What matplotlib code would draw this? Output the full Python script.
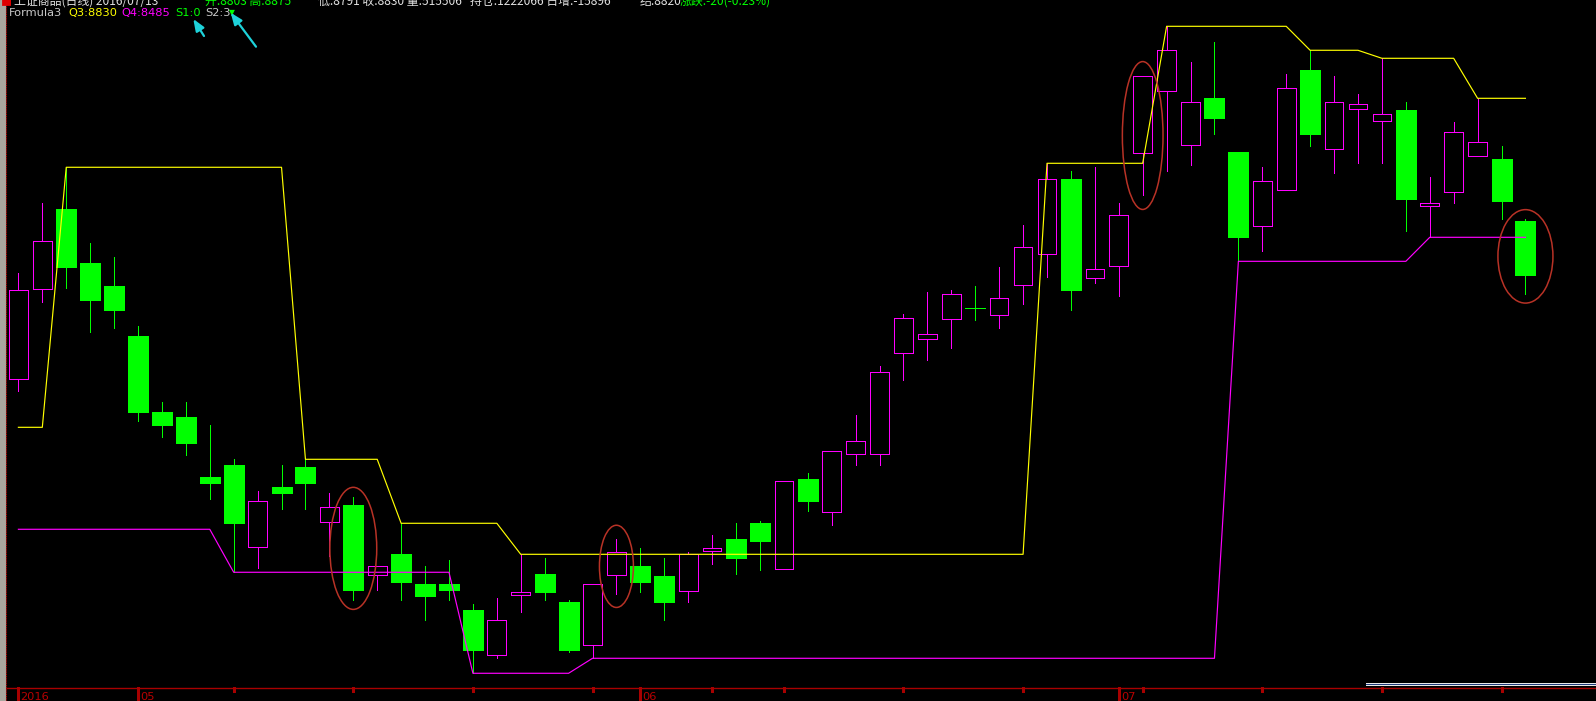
import matplotlib
matplotlib.use("Agg")
import matplotlib.pyplot as plt
from matplotlib.patches import Rectangle, Ellipse
from matplotlib import transforms

# ---- daily bars, 2016-04 .. 2016-07 -------------------------------------
opens = [8132.6, 8356.0, 8555.3, 8420.5, 8364.2, 8240.0, 8051.4, 8039.0,
         7890.1, 7919.9, 7715.6, 7865.3, 7914.9, 7777.7, 7820.6, 7646.1,
         7699.0, 7624.5, 7624.5, 7560.0, 7447.1, 7598.0, 7649.3, 7579.8,
         7472.4, 7646.1, 7669.2, 7644.4, 7606.4, 7705.7, 7736.2, 7775.9,
         7661.0, 7885.1, 7802.5, 7946.4, 7946.4, 8197.1, 8231.9, 8281.5,
         8308.8, 8291.4, 8365.9, 8442.8, 8629.7, 8383.3, 8413.0, 8693.5,
         8847.4, 8713.4, 8830.8, 8696.7, 8512.3, 8601.7, 8900.3, 8703.4,
         8802.7, 8772.9, 8801.0, 8562.0, 8596.7, 8686.1, 8679.4, 8525.5]
highs = [8395.7, 8569.4, 8658.8, 8470.1, 8435.4, 8264.9, 8076.2, 8076.2,
         8019.2, 7934.8, 7855.3, 7919.9, 7934.0, 7849.6, 7840.4, 7668.4,
         7775.2, 7669.2, 7684.1, 7574.9, 7589.8, 7698.2, 7688.3, 7584.8,
         7623.8, 7736.2, 7713.9, 7689.0, 7703.2, 7746.1, 7775.9, 7780.9,
         7879.4, 7900.0, 7953.9, 8044.0, 8165.6, 8294.6, 8348.5, 8354.2,
         8364.2, 8411.3, 8515.5, 8668.7, 8649.6, 8659.5, 8570.2, 8884.6,
         9008.7, 8920.1, 8969.8, 8696.7, 8659.5, 8890.3, 8949.2, 8885.4,
         8840.7, 8929.3, 8820.8, 8634.7, 8771.2, 8830.0, 8711.6, 8530.4]
lows = [8102.8, 8325.2, 8359.9, 8250.7, 8260.7, 8029.8, 7990.1, 7945.4,
        7836.2, 7653.6, 7665.0, 7811.4, 7811.4, 7694.8, 7585.5, 7610.4,
        7585.5, 7535.9, 7585.5, 7402.9, 7441.6, 7555.8, 7585.5, 7456.5,
        7440.1, 7600.4, 7605.4, 7535.9, 7580.6, 7674.9, 7650.1, 7660.0,
        7661.0, 7806.4, 7771.7, 7920.6, 7920.6, 8131.6, 8181.2, 8211.0,
        8279.8, 8260.7, 8320.2, 8387.2, 8304.6, 8372.3, 8340.1, 8590.7,
        8650.3, 8665.2, 8742.2, 8425.4, 8451.8, 8601.7, 8712.4, 8645.4,
        8670.2, 8670.2, 8501.4, 8485.0, 8570.9, 8686.1, 8531.2, 8345.0]
closes = [8353.5, 8475.1, 8412.1, 8330.1, 8305.3, 8052.2, 8019.2, 7975.2,
          7875.9, 7776.7, 7829.8, 7851.1, 7875.9, 7814.9, 7610.4, 7668.4,
          7630.2, 7595.5, 7610.4, 7461.4, 7535.2, 7604.7, 7605.4, 7461.4,
          7623.8, 7703.2, 7630.2, 7580.6, 7698.2, 7713.1, 7689.8, 7732.0,
          7879.4, 7831.3, 7953.9, 7978.7, 8149.9, 8284.0, 8244.3, 8343.5,
          8308.8, 8333.6, 8460.2, 8629.0, 8355.0, 8405.6, 8539.6, 8884.6,
          8949.2, 8820.1, 8781.9, 8486.5, 8624.0, 8854.8, 8742.2, 8820.1,
          8815.1, 8790.3, 8580.8, 8569.4, 8745.6, 8720.8, 8575.9, 8392.2]

# Formula3 outputs: Q3 upper channel (yellow), Q4 lower channel (magenta)
q3 = [8013.4, 8013.4, 8658.8, 8658.8, 8658.8, 8658.8, 8658.8, 8658.8,
      8658.8, 8658.8, 8658.8, 8658.8, 7934.0, 7934.0, 7934.0, 7934.0,
      7775.2, 7775.2, 7775.2, 7775.2, 7775.2, 7698.2, 7698.2, 7698.2,
      7698.2, 7698.2, 7698.2, 7698.2, 7698.2, 7698.2, 7698.2, 7698.2,
      7698.2, 7698.2, 7698.2, 7698.2, 7698.2, 7698.2, 7698.2, 7698.2,
      7698.2, 7698.2, 7698.2, 8668.7, 8668.7, 8668.7, 8668.7, 8668.7,
      9008.7, 9008.7, 9008.7, 9008.7, 9008.7, 9008.7, 8949.2, 8949.2,
      8949.2, 8929.3, 8929.3, 8929.3, 8929.3, 8830.0, 8830.0, 8830.0]
q4 = [7760.3, 7760.3, 7760.3, 7760.3, 7760.3, 7760.3, 7760.3, 7760.3,
      7760.3, 7653.6, 7653.6, 7653.6, 7653.6, 7653.6, 7653.6, 7653.6,
      7653.6, 7653.6, 7653.6, 7402.9, 7402.9, 7402.9, 7402.9, 7402.9,
      7440.1, 7440.1, 7440.1, 7440.1, 7440.1, 7440.1, 7440.1, 7440.1,
      7440.1, 7440.1, 7440.1, 7440.1, 7440.1, 7440.1, 7440.1, 7440.1,
      7440.1, 7440.1, 7440.1, 7440.1, 7440.1, 7440.1, 7440.1, 7440.1,
      7440.1, 7440.1, 7440.1, 8425.4, 8425.4, 8425.4, 8425.4, 8425.4,
      8425.4, 8425.4, 8425.4, 8485.0, 8485.0, 8485.0, 8485.0, 8485.0]
s1_value = 0
s2_value = 3

# date axis: week ticks and month starts (bar indices)
tick_bars = [0, 5, 9, 14, 19, 24, 26, 29, 32, 37, 42, 46, 47, 52, 57, 62]
month_bars = [0, 5, 26, 46]
month_labels = ["2016", "05", "06", "07"]

# bars circled as signals
marked_bars = [14, 25, 47, 63]

# ---- styling --------------------------------------------------------------
UP = "#FF00FF"
DOWN = "#00FF00"
YEL = "#FFFF00"
RING = "#B83226"
AXIS_RED = "#A80000"
CYAN = "#1ED2DA"
GREY = "#C8C8C8"
ring_w = [1.96, 1.42, 1.70, 2.30]     # ellipse widths in bars
ring_h = [303, 204, 367, 232]         # ellipse heights in price units
PX = 0.72                             # one device pixel in points

W, H = 1596, 701
fig = plt.figure(figsize=(W / 100, H / 100), dpi=100, facecolor="black")

ax = fig.add_axes([0, 0, 1, 1])
ax.set_facecolor("black")
ax.set_xlim(-0.769, 65.95)
ax.set_ylim(7334.1, 9074.0)
ax.axis("off")

body_up = 0.78
body_dn = 0.836
for i, (o, h, l, c) in enumerate(zip(opens, highs, lows, closes)):
    if c > o:
        ax.vlines(i, c, h, color=UP, lw=PX, antialiased=False, zorder=2)
        ax.vlines(i, l, o, color=UP, lw=PX, antialiased=False, zorder=2)
        ax.add_patch(Rectangle((i - body_up / 2, o), body_up, c - o, fill=False,
                               ec=UP, lw=PX, antialiased=False, snap=True,
                               zorder=3))
    else:
        ax.vlines(i, l, h, color=DOWN, lw=PX, antialiased=False, zorder=2)
        ax.add_patch(Rectangle((i - body_dn / 2, c), body_dn, o - c, fc=DOWN,
                               ec=DOWN, lw=PX, antialiased=False, snap=True,
                               zorder=3))

xs = list(range(len(closes)))
ax.plot(xs, q3, color=YEL, lw=0.85, zorder=4)
ax.plot(xs, q4, color=UP, lw=0.85, zorder=4)

for b, w, hgt in zip(marked_bars, ring_w, ring_h):
    cy = (highs[b] + lows[b]) / 2
    ax.add_patch(Ellipse((b, cy), w, hgt, fill=False, ec=RING, lw=1.1, zorder=5))

# ---- overlay in pixel units for frame, header and date axis -------------
ov = fig.add_axes([0, 0, 1, 1], facecolor="none")
ov.set_xlim(0, W)
ov.set_ylim(H, 0)
ov.axis("off")

# left frame strip
ov.add_patch(Rectangle((0, 0), 4.5, H, color="#A9A79E", zorder=1))
ov.vlines(6, 0, H, color="#C00000", lw=0.8, linestyles=(0, (1, 1)))

# date axis
axis_y = 687.7
ov.hlines(axis_y, 6, W, color=AXIS_RED, lw=1.0)
trans = transforms.blended_transform_factory(ax.transData, ov.transData)
for b in tick_bars:
    bottom = H if b in month_bars else axis_y + 3
    ov.plot([b, b], [axis_y, bottom], color=AXIS_RED, lw=0.9, transform=trans,
            antialiased=False)
lab_trans = transforms.offset_copy(trans, fig=fig, x=2, y=0, units="dots")
for b, lab in zip(month_bars, month_labels):
    ov.text(b, 692.3, lab, color="#B80000", fontsize=8.2, va="top", ha="left",
            transform=lab_trans)

# status strip at lower right
ov.add_patch(Rectangle((1366, 682.5), W - 1366, 1.2, color="#E8E8E8", lw=0))
ov.add_patch(Rectangle((1366, 683.7), W - 1366, 1.6, color="#1E3A78", lw=0))
ov.add_patch(Rectangle((1366, 685.3), W - 1366, 1.0, color="#E8E8E8", lw=0))

# clipped title line at the very top
cjk = ["Noto Sans CJK SC", "DejaVu Sans"]
ov.text(1, 4.8, "■", color="#E00000", fontsize=8, va="baseline", family=cjk)
top_parts = [
    (14, "上证商品(日线) 2016/07/13", "#E0E0E0"),
    (205, "开:8803 高:8875", "#00FF00"),
    (318, "低:8791 收:8830 量:515506", "#E0E0E0"),
    (470, "持仓:1222066 日增:-15896", "#E0E0E0"),
    (640, "结:8820", "#E0E0E0"),
    (680, "涨跌:-20(-0.23%)", "#00FF00"),
]
for x0, s, col in top_parts:
    ov.text(x0, 4.8, s, color=col, fontsize=8.6, va="baseline", family=cjk)

# indicator header
hy = 15.6
ov.text(9.3, hy, "Formula3", color=GREY, fontsize=8.2, va="baseline")
ov.text(68.3, hy, f"Q3:{q3[-1]:.0f}", color=YEL, fontsize=8.2, va="baseline")
ov.text(121.7, hy, f"Q4:{q4[-1]:.0f}", color=UP, fontsize=8.2, va="baseline")
ov.text(175.7, hy, f"S1:{s1_value}", color=DOWN, fontsize=8.2, va="baseline")
ov.text(205.7, hy, f"S2:{s2_value}", color=GREY, fontsize=8.2, va="baseline")
ov.text(228.5, hy - 1, "▼", color=DOWN, fontsize=5.5, va="baseline")

# pointers to the signal counters
for tip, tail in [((193.3, 19.0), (204.0, 36.0)), ((230.7, 12.7), (256.0, 46.7))]:
    ov.annotate("", xy=tip, xytext=tail,
                arrowprops=dict(arrowstyle="-|>,head_length=0.7,head_width=0.28",
                                color=CYAN, lw=1.6, shrinkA=0, shrinkB=0))

fig.savefig("out.png", dpi=100, facecolor="black")
